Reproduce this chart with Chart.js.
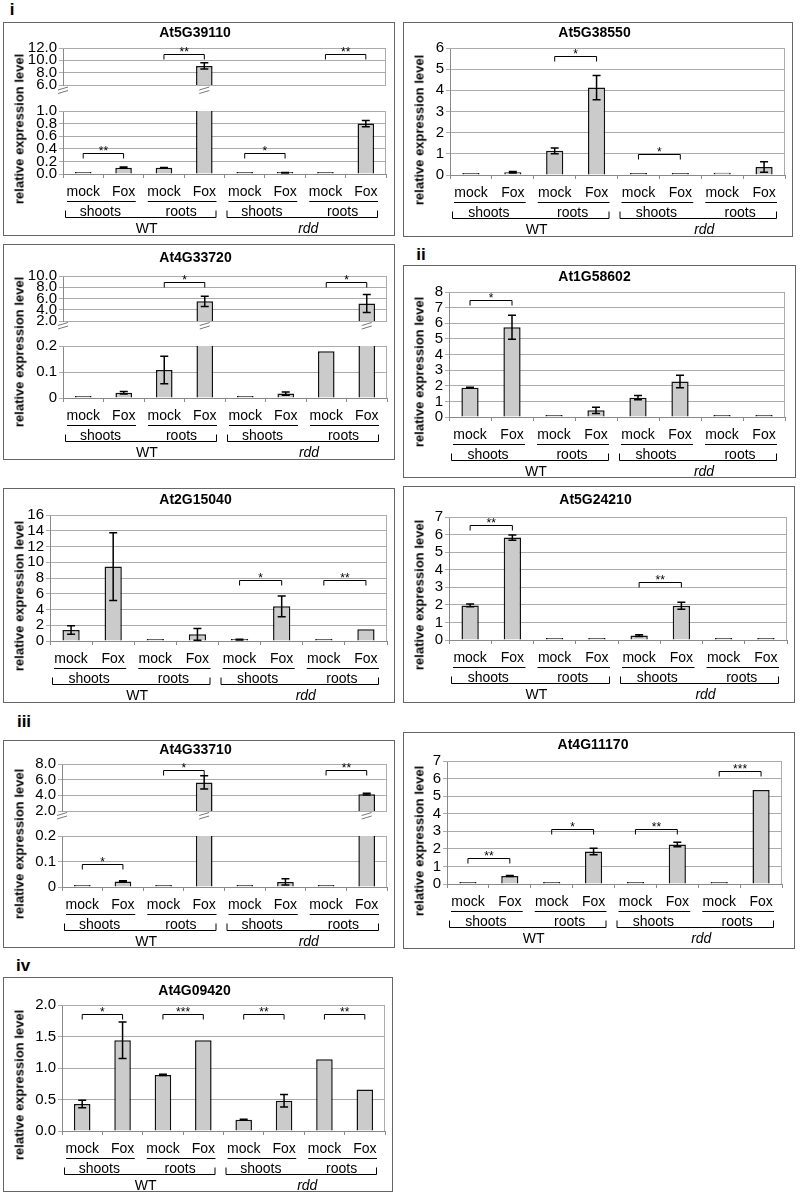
<!DOCTYPE html>
<html>
<head>
<meta charset="utf-8">
<title>Relative expression levels</title>
<style>
  body { margin: 0; background: #fff; font-family: "Liberation Sans", Arial, sans-serif; }
  #page { position: relative; width: 800px; height: 1197px; overflow: hidden; }
  .panel { position: absolute; border: 1px solid #666; box-sizing: border-box; }
  .panel canvas { position: absolute; left: 0; }
  .tag { position: absolute; font-weight: bold; font-size: 17px; transform: translate(-50%, -50%); }
  .ytitle { position: absolute; font-weight: bold; font-size: 13px; white-space: nowrap;
            transform: translate(-50%, -50%) rotate(-90deg); }
</style>
</head>
<body>
<div id="page"></div>

<script src="https://cdn.jsdelivr.net/npm/chart.js"></script>
<script>
  const categories = ['mock', 'Fox', 'mock', 'Fox', 'mock', 'Fox', 'mock', 'Fox'];
  const tissues = ['shoots', 'roots', 'shoots', 'roots'];
  const genotypes = ['WT', 'rdd'];

  // means, error bars, [pair, bracket height, stars], axis ranges [min, max, step]
  const at5g39110Mean = [0.005, 0.10, 0.10, 9.1, 0.003, 0.02, 0.003, 0.80];
  const at5g39110Err = [0, 0.01, 0.005, 0.5, 0, 0.003, 0, 0.05];
  const at5g39110Sig = [[0, 0.33, '**'], [1, 11.0, '**'], [2, 0.33, '*'], [3, 11.0, '**']];
  const at5g39110Axis = [[6, 12, 2], [0, 1, 0.2]];

  const at5g38550Mean = [0.02, 0.13, 1.14, 4.13, 0.01, 0.01, 0.11, 0.38];
  const at5g38550Err = [0, 0.04, 0.14, 0.57, 0, 0, 0, 0.25];
  const at5g38550Sig = [[1, 5.6, '*'], [2, 1.0, '*']];
  const at5g38550Axis = [[0, 6, 1]];

  const at4g33720Mean = [0.002, 0.02, 0.108, 5.5, 0.002, 0.017, 0.18, 5.1];
  const at4g33720Err = [0, 0.005, 0.053, 0.9, 0, 0.006, 0, 1.6];
  const at4g33720Sig = [[1, 8.9, '*'], [3, 8.9, '*']];
  const at4g33720Axis = [[2, 10, 2], [0, 0.2, 0.1]];

  const at1g58602Mean = [1.88, 5.75, 0.07, 0.43, 1.24, 2.27, 0.02, 0.06];
  const at1g58602Err = [0.02, 0.77, 0, 0.2, 0.13, 0.4, 0, 0];
  const at1g58602Sig = [[0, 7.5, '*']];
  const at1g58602Axis = [[0, 8, 1]];

  const at2g15040Mean = [1.4, 9.45, 0.05, 0.85, 0.18, 4.4, 0.03, 1.5];
  const at2g15040Err = [0.55, 4.3, 0, 0.75, 0.05, 1.33, 0, 0];
  const at2g15040Sig = [[2, 7.8, '*'], [3, 7.8, '**']];
  const at2g15040Axis = [[0, 16, 2]];

  const at5g24210Mean = [1.97, 5.83, 0.01, 0.02, 0.25, 1.95, 0.01, 0.01];
  const at5g24210Err = [0.08, 0.15, 0, 0, 0.05, 0.2, 0, 0];
  const at5g24210Sig = [[0, 6.55, '**'], [2, 3.3, '**']];
  const at5g24210Axis = [[0, 7, 1]];

  const at4g33710Mean = [0.003, 0.022, 0.002, 5.65, 0.007, 0.02, 0.002, 4.15];
  const at4g33710Err = [0, 0.003, 0, 0.85, 0, 0.012, 0, 0.12];
  const at4g33710Sig = [[0, 0.09, '*'], [1, 7.25, '*'], [3, 7.25, '**']];
  const at4g33710Axis = [[2, 8, 2], [0, 0.2, 0.1]];

  const at4g11170Mean = [0.02, 0.45, 0.01, 1.85, 0.02, 2.25, 0.01, 5.35];
  const at4g11170Err = [0, 0.03, 0, 0.18, 0, 0.13, 0, 0];
  const at4g11170Sig = [[0, 1.5, '**'], [1, 3.15, '*'], [2, 3.15, '**'], [3, 6.45, '***']];
  const at4g11170Axis = [[0, 7, 1]];

  const at4g09420Mean = [0.43, 1.44, 0.89, 1.44, 0.18, 0.48, 1.14, 0.66];
  const at4g09420Err = [0.06, 0.29, 0.01, 0, 0.005, 0.1, 0, 0];
  const at4g09420Sig = [[0, 1.86, '*'], [1, 1.86, '***'], [2, 1.86, '**'], [3, 1.86, '**']];
  const at4g09420Axis = [[0, 2, 0.5]];

  // page layout: box [left, top, width, height], plot [left, right], seg [top, bottom] per axis piece
  const panels = [
    { gene: 'At5G39110', mean: at5g39110Mean, err: at5g39110Err, sig: at5g39110Sig, axis: at5g39110Axis, dec: [1, 1],
      box: [3, 22, 392, 214], plot: [63, 386], seg: [[48, 99], [110, 174]], titleY: 33 },
    { gene: 'At5G38550', mean: at5g38550Mean, err: at5g38550Err, sig: at5g38550Sig, axis: at5g38550Axis, dec: [null],
      box: [403, 22, 390, 215], plot: [450, 785], seg: [[48, 175]], titleY: 33 },
    { gene: 'At4G33720', mean: at4g33720Mean, err: at4g33720Err, sig: at4g33720Sig, axis: at4g33720Axis, dec: [1, null],
      box: [3, 244, 392, 216], plot: [63, 387], seg: [[276, 335], [345, 398]], titleY: 258 },
    { gene: 'At1G58602', mean: at1g58602Mean, err: at1g58602Err, sig: at1g58602Sig, axis: at1g58602Axis, dec: [null],
      box: [403, 265, 393, 213], plot: [449, 785], seg: [[292, 417]], titleY: 277 },
    { gene: 'At2G15040', mean: at2g15040Mean, err: at2g15040Err, sig: at2g15040Sig, axis: at2g15040Axis, dec: [null],
      box: [3, 488, 392, 215], plot: [50, 387], seg: [[515, 641]], titleY: 500 },
    { gene: 'At5G24210', mean: at5g24210Mean, err: at5g24210Err, sig: at5g24210Sig, axis: at5g24210Axis, dec: [null],
      box: [403, 486, 392, 217], plot: [449, 787], seg: [[517, 640]], titleY: 500 },
    { gene: 'At4G33710', mean: at4g33710Mean, err: at4g33710Err, sig: at4g33710Sig, axis: at4g33710Axis, dec: [1, null],
      box: [3, 740, 392, 208], plot: [62, 387], seg: [[764, 825], [835, 887]], titleY: 750 },
    { gene: 'At4G11170', mean: at4g11170Mean, err: at4g11170Err, sig: at4g11170Sig, axis: at4g11170Axis, dec: [null],
      box: [403, 732, 392, 217], plot: [447, 782], seg: [[761, 884]], titleY: 745 },
    { gene: 'At4G09420', mean: at4g09420Mean, err: at4g09420Err, sig: at4g09420Sig, axis: at4g09420Axis, dec: [1],
      box: [3, 977, 390, 215], plot: [62, 385], seg: [[1005, 1131]], titleY: 991 }
  ];

  const tags = [['i', 12, 10], ['ii', 421, 255], ['iii', 24, 722], ['iv', 23, 966]];

  const FONT = '"Liberation Sans", Arial, sans-serif';
  const TITLE_SIZE = 14;
  const TITLE_LH = TITLE_SIZE * 1.2;
  const GRID = '#ababab';
  const AXIS = '#8a8a8a';

  function marks(p, k) {
    const last = k === p.seg.length - 1;
    return {
      id: 'marks',
      beforeDatasetsDraw(chart) {
        const a = chart.chartArea, ctx = chart.ctx;
        ctx.save();
        ctx.strokeStyle = GRID;
        ctx.lineWidth = 1;
        ctx.beginPath();
        ctx.moveTo(a.left, a.top + 0.5); ctx.lineTo(a.right, a.top + 0.5);
        ctx.moveTo(a.right - 0.5, a.top); ctx.lineTo(a.right - 0.5, a.bottom);
        ctx.stroke();
        ctx.restore();
      },
      afterDatasetsDraw(chart) {
        const a = chart.chartArea, ctx = chart.ctx, y = chart.scales.y;
        const bars = chart.getDatasetMeta(0).data;
        ctx.save();
        ctx.beginPath();
        ctx.rect(a.left, a.top - 1, a.right - a.left, a.bottom - a.top + 2);
        ctx.clip();
        ctx.strokeStyle = '#000';
        ctx.lineWidth = 1.5;
        bars.forEach((bar, i) => {
          const e = p.err[i];
          if (!e) return;
          const y1 = y.getPixelForValue(p.mean[i] + e);
          const y2 = y.getPixelForValue(p.mean[i] - e);
          ctx.beginPath();
          ctx.moveTo(bar.x, y1); ctx.lineTo(bar.x, y2);
          ctx.moveTo(bar.x - 4, y1); ctx.lineTo(bar.x + 4, y1);
          ctx.moveTo(bar.x - 4, y2); ctx.lineTo(bar.x + 4, y2);
          ctx.stroke();
        });
        ctx.restore();
      },
      afterDraw(chart) {
        const a = chart.chartArea, ctx = chart.ctx, y = chart.scales.y;
        const bars = chart.getDatasetMeta(0).data;
        const [lo, hi] = p.axis[k];
        ctx.save();
        ctx.strokeStyle = '#000';
        ctx.fillStyle = '#000';
        ctx.lineWidth = 1;
        // significance brackets
        p.sig.forEach(([pair, v, stars]) => {
          if (v < lo || v > hi) return;
          const x1 = bars[2 * pair].x, x2 = bars[2 * pair + 1].x;
          const yy = Math.round(y.getPixelForValue(v)) + 0.5;
          ctx.beginPath();
          ctx.moveTo(x1, yy + 5); ctx.lineTo(x1, yy); ctx.lineTo(x2, yy); ctx.lineTo(x2, yy + 5);
          ctx.stroke();
          ctx.font = '12px ' + FONT;
          ctx.textAlign = 'center';
          ctx.textBaseline = 'alphabetic';
          ctx.fillText(stars, (x1 + x2) / 2, yy + 1.5);
        });
        const cw = (a.right - a.left) / categories.length;
        if (last) {
          const B = a.bottom;
          ctx.font = '14px ' + FONT;
          ctx.textAlign = 'center';
          ctx.textBaseline = 'middle';
          tissues.forEach((t, j) => {
            const x0 = a.left + j * 2 * cw, x1 = x0 + 2 * cw;
            ctx.beginPath();
            ctx.moveTo(x0 + 4, B + 27.5); ctx.lineTo(x1 - 8, B + 27.5);
            ctx.stroke();
            ctx.fillText(t, (x0 + x1) / 2 - 3, B + 38);
          });
          genotypes.forEach((g, h) => {
            const x0 = a.left + h * 4 * cw + 2, x1 = a.left + (h + 1) * 4 * cw - 9;
            ctx.beginPath();
            ctx.moveTo(x0 + 0.5, B + 36.5); ctx.lineTo(x0 + 0.5, B + 43.5);
            ctx.lineTo(x1 + 0.5, B + 43.5); ctx.lineTo(x1 + 0.5, B + 36.5);
            ctx.stroke();
            ctx.font = (h === 1 ? 'italic ' : '') + '14px ' + FONT;
            ctx.fillText(g, a.left + (h + 0.5) * 4 * cw + 3, B + 55);
          });
        } else {
          // axis break marks in the gap below this piece
          const gap = p.seg[k + 1][0] - p.seg[k][1];
          const gy = a.bottom + gap / 2;
          const xs = [a.left];
          const nextHi = p.axis[k + 1][1];
          bars.forEach((bar, i) => { if (p.mean[i] > nextHi) xs.push(bar.x); });
          ctx.strokeStyle = '#777';
          xs.forEach(x => {
            ctx.beginPath();
            ctx.moveTo(x - 5, gy - 0.5); ctx.lineTo(x + 5, gy - 3.5);
            ctx.moveTo(x - 5, gy + 3); ctx.lineTo(x + 5, gy);
            ctx.stroke();
          });
        }
        ctx.restore();
      }
    };
  }

  function makeChart(p, k, holder) {
    const [bl, bt, bw, bh] = p.box;
    const ox = bl + 1, oy = bt + 1;
    const innerW = bw - 2, innerH = bh - 2;
    const [segTop, segBot] = p.seg[k];
    const first = k === 0, last = k === p.seg.length - 1;
    const cTop = first ? 0 : segTop - oy - 10;
    const cBot = last ? innerH : segBot - oy + 14;
    const cH = cBot - cTop;

    const canvas = document.createElement('canvas');
    canvas.width = innerW;
    canvas.height = cH;
    canvas.style.top = cTop + 'px';
    canvas.style.width = innerW + 'px';
    canvas.style.height = cH + 'px';
    holder.appendChild(canvas);

    const [lo, hi, step] = p.axis[k];
    const dec = p.dec[k];
    const titlePadTop = p.titleY - oy - TITLE_LH / 2;

    new Chart(canvas, {
      type: 'bar',
      data: {
        labels: categories,
        datasets: [{
          data: p.mean,
          backgroundColor: '#cbcbcb',
          borderColor: '#111',
          borderWidth: 1.5,
          categoryPercentage: 1,
          barPercentage: 0.41,
          minBarLength: last ? 2 : 0,
          clip: 0
        }]
      },
      options: {
        responsive: false,
        animation: false,
        events: [],
        layout: {
          padding: { left: 0, right: innerW - (p.plot[1] - ox), top: first ? 0 : 10, bottom: last ? 0 : 14 }
        },
        plugins: {
          legend: { display: false },
          tooltip: { enabled: false },
          title: {
            display: first,
            text: p.gene,
            color: '#000',
            font: { family: FONT, size: TITLE_SIZE, weight: 'bold' },
            padding: { top: titlePadTop, bottom: segTop - oy - titlePadTop - TITLE_LH }
          }
        },
        scales: {
          x: {
            display: last,
            grid: { offset: true, drawOnChartArea: false, color: AXIS, tickLength: 4 },
            border: { color: AXIS },
            ticks: { color: '#000', font: { family: FONT, size: 14 }, padding: 5.5, maxRotation: 0, autoSkip: false },
            afterFit: s => { s.height = cH - (segBot - oy - cTop); }
          },
          y: {
            min: lo,
            max: hi,
            grid: { color: GRID, tickLength: 4 },
            border: { color: AXIS },
            ticks: {
              stepSize: step,
              autoSkip: false,
              color: '#000',
              padding: 2,
              font: { family: FONT, size: 15 },
              callback: function (v) { return dec == null ? this.getLabelForValue(v) : Number(v).toFixed(dec); }
            },
            afterFit: s => { s.width = p.plot[0] - ox; }
          }
        }
      },
      plugins: [marks(p, k)]
    });
  }

  const page = document.getElementById('page');

  tags.forEach(([t, x, y]) => {
    const d = document.createElement('div');
    d.className = 'tag';
    d.textContent = t;
    d.style.left = x + 'px';
    d.style.top = y + 'px';
    page.appendChild(d);
  });

  panels.forEach(p => {
    const div = document.createElement('div');
    div.className = 'panel';
    div.style.left = p.box[0] + 'px';
    div.style.top = p.box[1] + 'px';
    div.style.width = p.box[2] + 'px';
    div.style.height = p.box[3] + 'px';
    page.appendChild(div);
    p.seg.forEach((s, k) => makeChart(p, k, div));

    const yt = document.createElement('div');
    yt.className = 'ytitle';
    yt.textContent = 'relative expression level';
    yt.style.left = (p.box[0] + 16) + 'px';
    yt.style.top = (p.box[1] + p.box[3] / 2) + 'px';
    page.appendChild(yt);
  });
</script>
</body>
</html>
